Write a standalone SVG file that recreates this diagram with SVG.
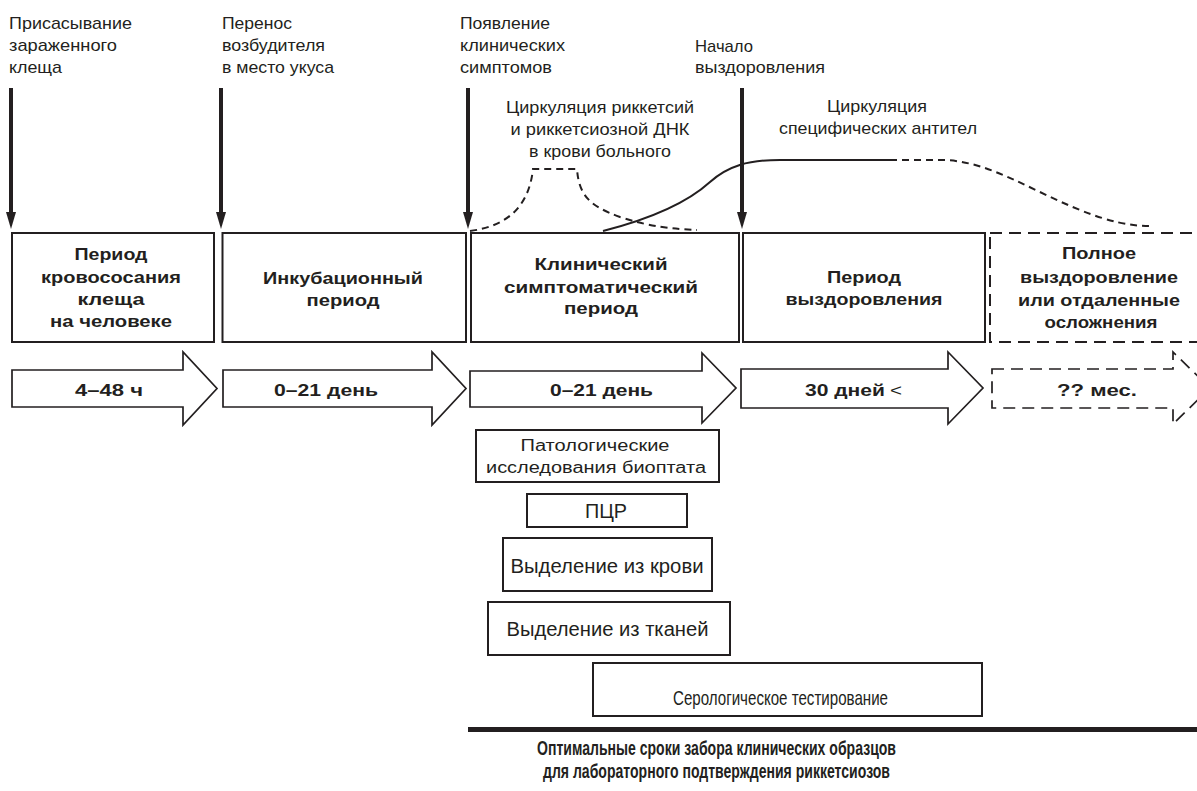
<svg xmlns="http://www.w3.org/2000/svg" width="1197" height="791" viewBox="0 0 1197 791">
<style>
text{font-family:"Liberation Sans",Arial,sans-serif;fill:#231f20}
.lbl{font-size:17px}
.b{font-size:17px;font-weight:bold;text-anchor:middle}
.c{text-anchor:middle}
.box{fill:#fff;stroke:#231f20;stroke-width:2}
.dbox{fill:none;stroke:#231f20;stroke-width:2;stroke-dasharray:12 7}
.blk{fill:#fff;stroke:#231f20;stroke-width:1.7;stroke-linejoin:miter}
.dblk{fill:none;stroke:#231f20;stroke-width:1.7;stroke-dasharray:12 7}
.sm{font-size:16px;text-anchor:middle}
.md{font-size:20px;text-anchor:middle}
.down{stroke:#231f20;stroke-width:4;fill:none;marker-end:url(#ah)}
.crv{fill:none;stroke:#231f20;stroke-width:2}
.dcrv{fill:none;stroke:#231f20;stroke-width:2;stroke-dasharray:7 5}
.cap{font-size:20px;font-weight:bold;text-anchor:middle}
</style>
<defs>
<marker id="ah" markerUnits="userSpaceOnUse" markerWidth="18" markerHeight="12" refX="3" refY="5" orient="auto">
<path d="M0,0 L17,5 L0,10 z" fill="#231f20"/>
</marker>
</defs>

<g id="events">
<text class="lbl" x="9" y="29" textLength="123" lengthAdjust="spacingAndGlyphs">Присасывание</text>
<text class="lbl" x="9" y="51" textLength="108" lengthAdjust="spacingAndGlyphs">зараженного</text>
<text class="lbl" x="9" y="73" textLength="53" lengthAdjust="spacingAndGlyphs">клеща</text>
<text class="lbl" x="222" y="29" textLength="70" lengthAdjust="spacingAndGlyphs">Перенос</text>
<text class="lbl" x="222" y="51" textLength="103" lengthAdjust="spacingAndGlyphs">возбудителя</text>
<text class="lbl" x="222" y="73" textLength="112" lengthAdjust="spacingAndGlyphs">в место укуса</text>
<text class="lbl" x="460" y="29" textLength="90" lengthAdjust="spacingAndGlyphs">Появление</text>
<text class="lbl" x="460" y="51" textLength="105" lengthAdjust="spacingAndGlyphs">клинических</text>
<text class="lbl" x="460" y="73" textLength="92" lengthAdjust="spacingAndGlyphs">симптомов</text>
<text class="lbl" x="695" y="52" textLength="58" lengthAdjust="spacingAndGlyphs">Начало</text>
<text class="lbl" x="695" y="73" textLength="130" lengthAdjust="spacingAndGlyphs">выздоровления</text>
</g>

<g id="circulation-labels">
<text class="lbl c" x="600" y="113" textLength="188" lengthAdjust="spacingAndGlyphs">Циркуляция риккетсий</text>
<text class="lbl c" x="600" y="135" textLength="179" lengthAdjust="spacingAndGlyphs">и риккетсиозной ДНК</text>
<text class="lbl c" x="600" y="157" textLength="142" lengthAdjust="spacingAndGlyphs">в крови больного</text>
<text class="lbl c" x="877" y="112" textLength="100" lengthAdjust="spacingAndGlyphs">Циркуляция</text>
<text class="lbl c" x="878" y="134" textLength="198" lengthAdjust="spacingAndGlyphs">специфических антител</text>
</g>

<g id="connectors">
<line class="down" x1="11" y1="88" x2="11" y2="215"/>
<line class="down" x1="221" y1="88" x2="221" y2="215"/>
<line class="down" x1="468" y1="88" x2="468" y2="215"/>
<line class="down" x1="742" y1="88" x2="742" y2="215"/>
<path class="dcrv" d="M470,231 C508,226 529,206 533,169 L577,169 C579,196 590,206 620,217 C650,227 675,229 697,230"/>
<path class="crv" d="M603,231 C650,219 688,202 710,182 C728,166 748,160 780,160 L890,160"/>
<path class="dcrv" d="M890,160 L945,160 C990,162 1030,190 1080,210 C1110,222 1130,226 1150,226"/>
</g>

<g id="period1">
<rect class="box" x="12" y="233" width="202" height="109"/>
<text class="b" x="111" y="260" textLength="73" lengthAdjust="spacingAndGlyphs">Период</text>
<text class="b" x="111" y="283" textLength="140" lengthAdjust="spacingAndGlyphs">кровососания</text>
<text class="b" x="111" y="305" textLength="67" lengthAdjust="spacingAndGlyphs">клеща</text>
<text class="b" x="111" y="327" textLength="122" lengthAdjust="spacingAndGlyphs">на человеке</text>
</g>
<g id="period2">
<rect class="box" x="222.5" y="233" width="243.5" height="109"/>
<text class="b" x="343" y="284" textLength="160" lengthAdjust="spacingAndGlyphs">Инкубационный</text>
<text class="b" x="343" y="306" textLength="73" lengthAdjust="spacingAndGlyphs">период</text>
</g>
<g id="period3">
<rect class="box" x="471" y="233" width="268" height="109"/>
<text class="b" x="601" y="270" textLength="133" lengthAdjust="spacingAndGlyphs">Клинический</text>
<text class="b" x="601" y="293" textLength="194" lengthAdjust="spacingAndGlyphs">симптоматический</text>
<text class="b" x="601" y="314" textLength="74" lengthAdjust="spacingAndGlyphs">период</text>
</g>
<g id="period4">
<rect class="box" x="743" y="233" width="242" height="109"/>
<text class="b" x="864" y="283" textLength="74" lengthAdjust="spacingAndGlyphs">Период</text>
<text class="b" x="864" y="305" textLength="157" lengthAdjust="spacingAndGlyphs">выздоровления</text>
</g>
<g id="period5">
<rect class="dbox" x="990" y="233" width="222" height="109"/>
<text class="b" x="1099" y="259" textLength="74" lengthAdjust="spacingAndGlyphs">Полное</text>
<text class="b" x="1099" y="283" textLength="158" lengthAdjust="spacingAndGlyphs">выздоровление</text>
<text class="b" x="1099" y="306" textLength="162" lengthAdjust="spacingAndGlyphs">или отдаленные</text>
<text class="b" x="1101" y="328" textLength="113" lengthAdjust="spacingAndGlyphs">осложнения</text>
</g>

<g id="dur1">
<polygon class="blk" points="12,370 183,370 183,352 217,388.5 183,425 183,407 12,407"/>
<text class="b" x="109" y="396" textLength="68" lengthAdjust="spacingAndGlyphs">4–48 ч</text>
</g>
<g id="dur2">
<polygon class="blk" points="223,370 432,370 432,352 466,388.5 432,425 432,407 223,407"/>
<text class="b" x="326" y="396" textLength="104" lengthAdjust="spacingAndGlyphs">0–21 день</text>
</g>
<g id="dur3">
<polygon class="blk" points="470,371 702,371 702,353 736,388 702,423 702,407 470,407"/>
<text class="b" x="601.5" y="396" textLength="103" lengthAdjust="spacingAndGlyphs">0–21 день</text>
</g>
<g id="dur4">
<polygon class="blk" points="741,369 948,369 948,352 983,388 948,424 948,408 741,408"/>
<text class="b" x="845" y="396" textLength="80" lengthAdjust="spacingAndGlyphs">30 дней</text>
<text x="890" y="396" style="font-size:17px" textLength="12" lengthAdjust="spacingAndGlyphs">&lt;</text>
</g>
<g id="dur5">
<polygon class="dblk" points="992,369 1173,369 1173,352 1210,388 1173,424 1173,408 992,408"/>
<text class="b" x="1097" y="396" textLength="80" lengthAdjust="spacingAndGlyphs">?? мес.</text>
</g>

<g id="test-pathology">
<rect class="box" x="476" y="430" width="243" height="52"/>
<text class="sm" x="595" y="451" textLength="149" lengthAdjust="spacingAndGlyphs">Патологические</text>
<text class="sm" x="596" y="473" textLength="220" lengthAdjust="spacingAndGlyphs">исследования биоптата</text>
</g>
<g id="test-pcr">
<rect class="box" x="527" y="494" width="160" height="33"/>
<text class="md" x="606" y="518" textLength="42" lengthAdjust="spacingAndGlyphs">ПЦР</text>
</g>
<g id="test-blood">
<rect class="box" x="503" y="538" width="209" height="53"/>
<text class="md" x="607" y="573" textLength="193" lengthAdjust="spacingAndGlyphs">Выделение из крови</text>
</g>
<g id="test-tissue">
<rect class="box" x="488" y="602" width="242" height="53"/>
<text class="md" x="607.5" y="636" textLength="202" lengthAdjust="spacingAndGlyphs">Выделение из тканей</text>
</g>
<g id="test-serology">
<rect class="box" x="593" y="663" width="389" height="53"/>
<text x="780.5" y="705" style="font-size:21px;text-anchor:middle" textLength="215" lengthAdjust="spacingAndGlyphs">Серологическое тестирование</text>
</g>

<g id="caption">
<rect x="468" y="727" width="729" height="5" fill="#231f20"/>
<text class="cap" x="716.5" y="755" textLength="359" lengthAdjust="spacingAndGlyphs">Оптимальные сроки забора клинических образцов</text>
<text class="cap" x="716.5" y="778" textLength="347" lengthAdjust="spacingAndGlyphs">для лабораторного подтверждения риккетсиозов</text>
</g>
</svg>
